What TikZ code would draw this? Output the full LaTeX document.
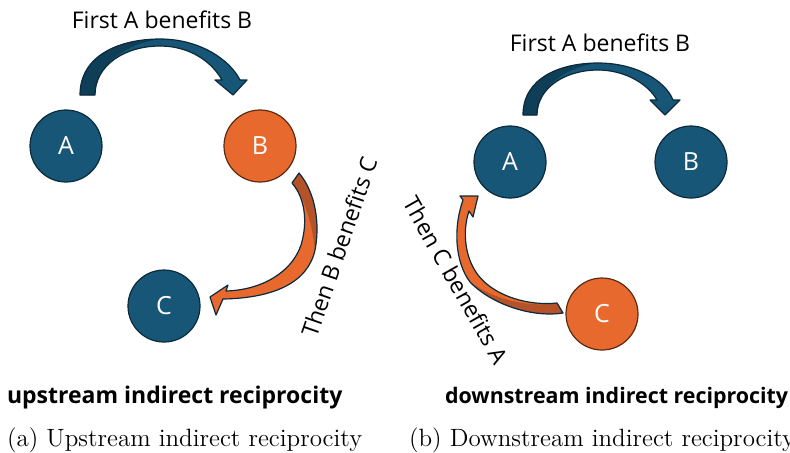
\documentclass[tikz,border=0pt]{standalone}
\usepackage{fontspec}
\newfontfamily\slidefont{Open Sans}
\usetikzlibrary{positioning}
\definecolor{nodeblue}{HTML}{175676}
\definecolor{shadeblue}{HTML}{0F3E57}
\definecolor{edgeblue}{HTML}{0B2A3B}
\definecolor{nodeorange}{HTML}{E8692E}
\definecolor{shadeorange}{HTML}{B4522A}
\definecolor{edgebrown}{HTML}{5C2A12}
\begin{document}
\begin{tikzpicture}[x=0.5pt,y=-0.5pt,
        agent/.style={circle,draw=edgeblue,line width=0.6pt,fill=nodeblue,
            minimum size=36pt,inner sep=0pt,text=white,
            font=\slidefont\fontsize{12.5}{12.5}\selectfont},
        giver/.style={agent,draw=edgebrown,fill=nodeorange},
        note/.style={font=\slidefont\fontsize{11.5}{12}\selectfont},
        title/.style={anchor=west,font=\slidefont\bfseries\fontsize{11.5}{13}\selectfont},
        caption/.style={anchor=west,font=\fontsize{12.5}{14}\selectfont},
        rim/.style={line width=0.6pt,line join=round}]
\useasboundingbox (0,0) rectangle (790,452);

% upstream
\node[agent] at (66,146) (upA) {A};
\node[giver] at (260,146) (upB) {B};
\node[agent] at (164,306) (upC) {C};
\node[note] at (162,20) (upfirst) {First A benefits B};
\node[note,rotate=71] at (339,247) (upthen) {Then B benefits C};

\fill[nodeblue] (80,95) .. controls (80,55) and (120,39) .. (160,39) .. controls (200,39) and (230,60) .. (240,80)
    -- (247,80) -- (233,95) -- (215,80) -- (222,80) .. controls (212,62) and (190,46) .. (160,46)
    .. controls (125,46) and (95,65) .. (95,95) -- cycle;
\fill[shadeblue] (80,95) .. controls (80,55) and (120,39) .. (160,39) .. controls (125,44) and (95,65) .. (95,95) -- cycle;
\draw[edgeblue,rim] (80,95) .. controls (80,55) and (120,39) .. (160,39) .. controls (200,39) and (230,60) .. (240,80)
    -- (247,80) -- (233,95) -- (215,80) -- (222,80) .. controls (212,62) and (190,46) .. (160,46)
    .. controls (125,46) and (95,65) .. (95,95) -- cycle;

\fill[nodeorange] (299,173) .. controls (316,193) and (320,225) .. (315,250) .. controls (308,282) and (275,298) .. (223,299)
    -- (216,315) -- (210,297) -- (228,285) -- (226,291) .. controls (262,290) and (292,272) .. (301,245)
    .. controls (308,222) and (305,198) .. (292,183) -- cycle;
\fill[shadeorange] (292,183) -- (299,173) .. controls (316,193) and (320,225) .. (315,250) .. controls (312,225) and (306,200) .. (292,183) -- cycle;
\draw[edgeblue,rim] (299,173) .. controls (316,193) and (320,225) .. (315,250) .. controls (308,282) and (275,298) .. (223,299)
    -- (216,315) -- (210,297) -- (228,285) -- (226,291) .. controls (262,290) and (292,272) .. (301,245)
    .. controls (308,222) and (305,198) .. (292,183) -- cycle;

\node[title] at (0,398) (uptitle) {upstream indirect reciprocity};
\node[caption] at (0,440) (upcap) {(a) Upstream indirect reciprocity};

% downstream
\node[agent] at (510,162) (downA) {A};
\node[agent] at (691,162) (downB) {B};
\node[giver] at (602,314) (downC) {C};
\node[note] at (600,43) (downfirst) {First A benefits B};
\node[note,rotate=-60.5] at (456,280) (downthen) {Then C benefits A};

\fill[nodeblue] (523,115) .. controls (523,78) and (560,63) .. (598,63) .. controls (635,63) and (665,80) .. (673,100)
    -- (680,100) -- (665,115) -- (650,100) -- (657,100) .. controls (648,84) and (625,70) .. (598,70)
    .. controls (565,70) and (537,88) .. (537,115) -- cycle;
\fill[shadeblue] (523,115) .. controls (523,78) and (560,63) .. (598,63) .. controls (565,67) and (537,88) .. (537,115) -- cycle;
\draw[edgeblue,rim] (523,115) .. controls (523,78) and (560,63) .. (598,63) .. controls (635,63) and (665,80) .. (673,100)
    -- (680,100) -- (665,115) -- (650,100) -- (657,100) .. controls (648,84) and (625,70) .. (598,70)
    .. controls (565,70) and (537,88) .. (537,115) -- cycle;

\fill[nodeorange] (563,313) .. controls (530,318) and (490,303) .. (470,282) .. controls (455,262) and (453,228) .. (463,200)
    -- (460,196) -- (478,196) -- (473,217) -- (469,211) .. controls (462,232) and (465,258) .. (478,275)
    .. controls (495,297) and (530,306) .. (557,303) -- cycle;
\fill[shadeorange] (557,303) -- (563,313) .. controls (530,318) and (490,303) .. (470,282) .. controls (492,298) and (525,308) .. (557,303) -- cycle;
\draw[edgeblue,rim] (563,313) .. controls (530,318) and (490,303) .. (470,282) .. controls (455,262) and (453,228) .. (463,200)
    -- (460,196) -- (478,196) -- (473,217) -- (469,211) .. controls (462,232) and (465,258) .. (478,275)
    .. controls (495,297) and (530,306) .. (557,303) -- cycle;

\node[title,font=\slidefont\bfseries\fontsize{10.7}{13}\selectfont] at (438,398) (downtitle) {downstream indirect reciprocity};
\node[caption] at (402,440) (downcap) {(b) Downstream indirect reciprocity};
\end{tikzpicture}
\end{document}
